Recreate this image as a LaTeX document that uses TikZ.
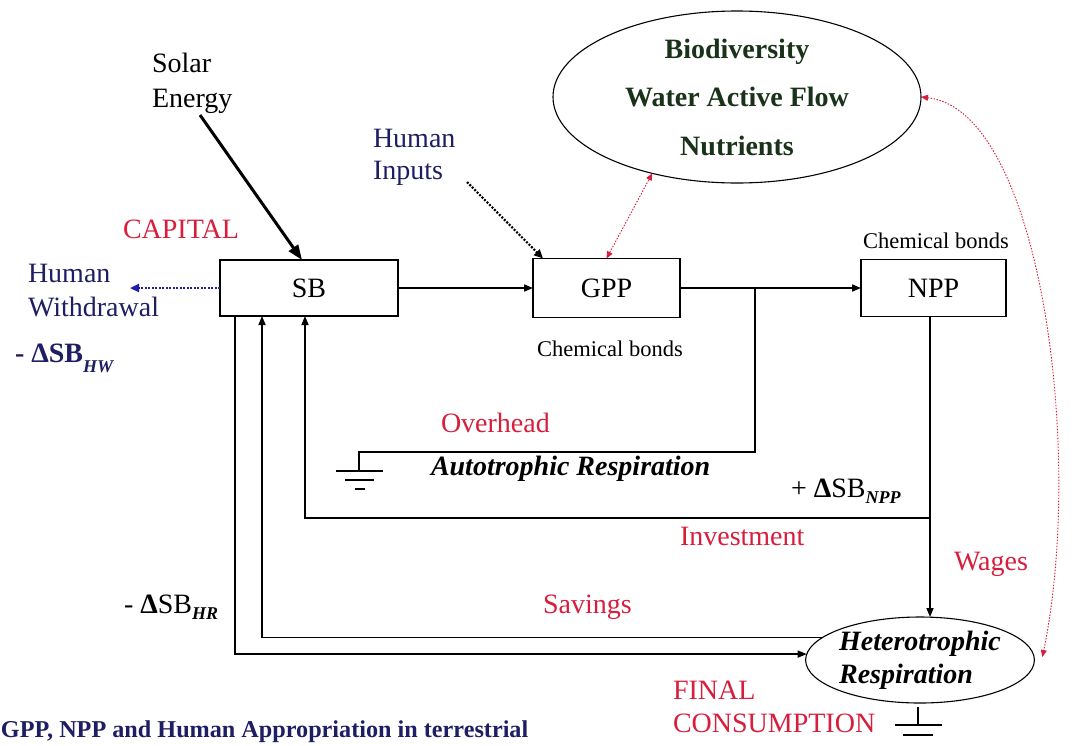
\documentclass[tikz,border=0pt]{standalone}
\usepackage{fontspec}
\setmainfont{Liberation Serif}
\usetikzlibrary{arrows.meta,shapes.geometric}
\definecolor{navyt}{RGB}{30,30,100}
\definecolor{redl}{RGB}{215,30,60}
\definecolor{greent}{RGB}{25,50,25}
\definecolor{blued}{RGB}{30,30,170}
\begin{document}
\begin{tikzpicture}[x=1pt,y=-1pt,
 every node/.style={inner sep=0pt, outer sep=0pt},
 lab/.style={font=\fontsize{28}{34}\selectfont},
 redlab/.style={lab, text=redl},
 box/.style={draw, line width=1.5pt, lab},
 conn/.style={line width=1.5pt},
 arr/.style={conn, -{Triangle[length=9pt,width=7pt]}},
 reddot/.style={redl, line width=0.9pt, dash pattern=on 1.5pt off 1.5pt,
   {Triangle[length=7pt,width=6pt]}-{Triangle[length=7pt,width=6pt]}},
 gnd/.style={line width=1.5pt}
]
\fill[white] (0,0) rectangle (1076,745);
\useasboundingbox (0,0) rectangle (1076,745);

% main boxes
\node[box, minimum width=178pt, minimum height=56pt] (sb) at (309,288) {SB};
\node[box, minimum width=147pt, minimum height=59pt] (gpp) at (606.5,288) {GPP};
\node[box, minimum width=145pt, minimum height=57pt] (npp) at (933.5,288) {NPP};
\node[draw, ellipse, line width=1.1pt, minimum width=368pt, minimum height=172pt,
  align=center, font=\fontsize{28}{48.5}\selectfont\bfseries, text=greent] (bio) at (737,97)
  {Biodiversity\\Water Active Flow\\Nutrients};
\node[draw, ellipse, line width=1.1pt, minimum width=222pt, minimum height=86pt,
  align=left, font=\fontsize{28}{33}\selectfont\bfseries\itshape] (het) at (920,660)
  {Heterotrophic\\Respiration};

% text labels
\node[align=left, anchor=west, font=\fontsize{28}{35}\selectfont] (solar) at (152,83) {Solar\\Energy};
\node[redlab, anchor=base west] (capital) at (123,238) {CAPITAL};
\node[align=left, anchor=west, text=navyt, font=\fontsize{28}{34}\selectfont] (hw) at (28,290.5) {Human\\Withdrawal};
\node[anchor=base west, text=navyt, font=\fontsize{28}{34}\selectfont\bfseries] (dhw) at (15,362)
  {- ΔSB\raisebox{-10pt}{\fontsize{18}{18}\selectfont\itshape HW}};
\node[align=left, anchor=west, text=navyt, font=\fontsize{28}{32}\selectfont] (hin) at (373,157.5) {Human\\Inputs};
\node[anchor=base, font=\fontsize{22.5}{27}\selectfont] (cb1) at (610,356) {Chemical bonds};
\node[anchor=base, font=\fontsize{22.5}{27}\selectfont] (cb2) at (936,248) {Chemical bonds};
\node[redlab, anchor=base west] (overhead) at (441,432) {Overhead};
\node[anchor=base west, font=\fontsize{28}{34}\selectfont\bfseries\itshape] (auto) at (431,475) {Autotrophic Respiration};
\node[lab, anchor=base west] (dnpp) at (791,497)
  {+ \textbf{Δ}SB\raisebox{-6pt}{\fontsize{18}{18}\selectfont\bfseries\itshape NPP}};
\node[redlab, anchor=base west] (inv) at (680,545) {Investment};
\node[redlab, anchor=base west] (wages) at (954,570) {Wages};
\node[redlab, anchor=base west] (sav) at (543,613) {Savings};
\node[lab, anchor=base west] (dhr) at (124,613)
  {- \textbf{Δ}SB\raisebox{-6pt}{\fontsize{18}{18}\selectfont\bfseries\itshape HR}};
\node[align=left, anchor=west, text=redl, font=\fontsize{28}{33}\selectfont] (final) at (673,707) {FINAL\\CONSUMPTION};
\node[anchor=base west, text=navyt, font=\fontsize{24.2}{29}\selectfont\bfseries] (caption) at (1,737)
  {GPP, NPP and Human Appropriation in terrestrial};

% coordinates
\coordinate (solA) at (200,115);
\coordinate (hwA) at (130,288);
\coordinate (hinA) at (467,182);
\coordinate (br) at (755,288);
\coordinate (g1) at (359,452);
\coordinate (invj) at (930,518);
\coordinate (g2) at (918,707);

% connectors
\draw[line width=3pt, -{Triangle[length=15pt,width=11pt]}] (solA) -- ([xshift=-7pt]sb.north);
\draw[blued, line width=2.2pt, dash pattern=on 2pt off 1.5pt, -{Triangle[length=9pt,width=8pt]}] (sb.west) -- (hwA);
\draw[line width=2.2pt, dash pattern=on 2pt off 1.5pt, -{Triangle[length=9pt,width=8pt]}] (hinA) -- ([xshift=10pt]gpp.north west);
\draw[arr] (sb.east) -- (gpp.west);
\draw[arr] (gpp.east) -- (npp.west);
\draw[conn] (br) |- (g1) -- ++(0,19);
\draw[gnd] (336,471) -- (383,471) (345,480) -- (374,480) (355,489) -- (365,489);
\draw[arr] ([xshift=-3.5pt]npp.south) -- (het.north -| invj);
\draw[arr] (invj) -| ([xshift=-4pt]sb.south);
\draw[arr] (het.167) -| ([xshift=-47pt]sb.south);
\draw[arr] ([xshift=-74pt]sb.south) |- (het.177);
\draw[gnd] (g2) -- (918,725) (895,725) -- (942,725) (903,735) -- (933,735);
\draw[reddot] (gpp.north) -- (bio.222);
\draw[reddot] (bio.east) .. controls (1040,110) and (1085,450) .. ([xshift=8pt,yshift=3pt]het.east);
\end{tikzpicture}
\end{document}
